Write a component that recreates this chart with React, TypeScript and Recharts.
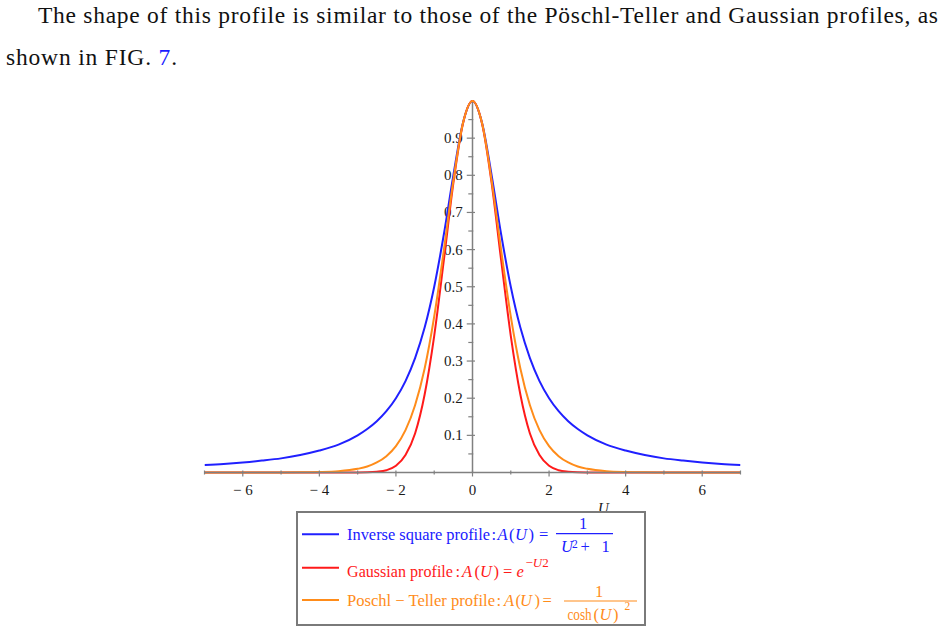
import React from 'react';
import { LineChart, Line, XAxis, YAxis, ReferenceLine, Legend } from 'recharts';

// ---------- data ----------
const U = [
  -7, -6.5, -6, -5.5, -5, -4.5, -4, -3.5, -3, -2.75, -2.5, -2.25, -2, -1.75, -1.5, -1.25, -1, -0.75, -0.5, -0.25,
  0, 0.25, 0.5, 0.75, 1, 1.25, 1.5, 1.75, 2, 2.25, 2.5, 2.75, 3, 3.5, 4, 4.5, 5, 5.5, 6, 6.5, 7,
];
const inverseSquare = [
  0.02, 0.023, 0.027, 0.032, 0.038, 0.047, 0.059, 0.075, 0.1, 0.117, 0.138, 0.165, 0.2, 0.246, 0.308, 0.39, 0.5, 0.64, 0.8, 0.941,
  1, 0.941, 0.8, 0.64, 0.5, 0.39, 0.308, 0.246, 0.2, 0.165, 0.138, 0.117, 0.1, 0.075, 0.059, 0.047, 0.038, 0.032, 0.027, 0.023, 0.02,
];
const gaussian = [
  0, 0, 0, 0, 0, 0, 0, 0, 0.0001, 0.0005, 0.002, 0.006, 0.018, 0.047, 0.105, 0.21, 0.368, 0.57, 0.779, 0.939,
  1, 0.939, 0.779, 0.57, 0.368, 0.21, 0.105, 0.047, 0.018, 0.006, 0.002, 0.0005, 0.0001, 0, 0, 0, 0, 0, 0, 0, 0,
];
const poschlTeller = [
  0, 0, 0, 0, 0.0002, 0.0005, 0.0013, 0.0036, 0.0099, 0.016, 0.027, 0.044, 0.071, 0.114, 0.181, 0.28, 0.42, 0.597, 0.786, 0.94,
  1, 0.94, 0.786, 0.597, 0.42, 0.28, 0.181, 0.114, 0.071, 0.044, 0.027, 0.016, 0.0099, 0.0036, 0.0013, 0.0005, 0.0002, 0, 0, 0, 0,
];

const seriesKeys = ['inv', 'gau', 'pt'];
const seriesNames = ['Inverse square profile', 'Gaussian profile', 'Poschl \u2212 Teller profile'];

const xMajorTicks = [-6, -4, -2, 0, 2, 4, 6];
const xTickLabels = ['\u2212 6', '\u2212 4', '\u2212 2', '0', '2', '4', '6'];
const xMinorTicks = [-7, -5, -3, -1, 1, 3, 5, 7];
const yMajorTicks = [0.1, 0.2, 0.3, 0.4, 0.5, 0.6, 0.7, 0.8, 0.9];
const yTickLabels = ['0.1', '0.2', '0.3', '0.4', '0.5', '0.6', '0.7', '0.8', '0.9'];
const yMinorTicks = [0.05, 0.15, 0.25, 0.35, 0.45, 0.55, 0.65, 0.75, 0.85, 0.95];

const data = U.map((u, i) => ({ u, inv: inverseSquare[i], gau: gaussian[i], pt: poschlTeller[i] }));
const xTicks = [...xMajorTicks, ...xMinorTicks].sort((a, b) => a - b);

// ---------- styles ----------
const SERIF = '"Liberation Serif", "Times New Roman", serif';
const AXIS = '#808080';
const BLUE = '#2020ff';
const RED = '#ff1a1a';
const ORANGE = '#ff8c1a';
const seriesColors = [BLUE, RED, ORANGE];
const TEXT = '#1a1a1a';
const LFS = 16.5;
const IT = { fontStyle: 'italic' as const };

const XTick = (props: any) => {
  const { x, y, payload } = props;
  const v = payload.value;
  const mi = xMajorTicks.indexOf(v);
  const major = mi >= 0;
  return (
    <g>
      <line x1={x} x2={x} y1={y - 2} y2={y + (major ? 4 : 2)} stroke={AXIS} strokeWidth={1.2} />
      {major && (
        <text x={x} y={y + 22.5} textAnchor="middle" fontFamily={SERIF} fontSize={15} fill={TEXT}>
          {xTickLabels[mi]}
        </text>
      )}
    </g>
  );
};

const yLabel = (text: string) => (props: any) => {
  const vb = props.viewBox || {};
  return (
    <text x={vb.x - 4} y={vb.y + 5} textAnchor="end" fontFamily={SERIF} fontSize={15} fill={TEXT}>
      {text}
    </text>
  );
};

const uLabel = (props: any) => {
  const vb = props.viewBox || {};
  return (
    <text x={vb.x + vb.width - 137} y={vb.y + 40} textAnchor="middle" fontFamily={SERIF} fontStyle="italic" fontSize={15} fill={TEXT}>
      U
    </text>
  );
};

const rowLineY = [23.3, 56.7, 89];

const Row1 = ({ c }: { c: string }) => (
  <g fill={c} fontFamily={SERIF} fontSize={LFS}>
    <text y={29}>
      <tspan x={51} textLength={143} lengthAdjust="spacingAndGlyphs">{seriesNames[0]}</tspan>
      <tspan x={195.5}>:</tspan>
      <tspan x={201.5} style={IT}>A</tspan>
      <tspan x={213}>(</tspan>
      <tspan x={219} style={IT}>U</tspan>
      <tspan x={232.5}>)</tspan>
      <tspan x={243}>=</tspan>
    </text>
    <text x={287} y={17.7} textAnchor="middle">1</text>
    <line x1={260} x2={317} y1={22.7} y2={22.7} stroke={c} strokeWidth={1.2} />
    <text y={41}>
      <tspan x={265} style={IT}>U</tspan>
      <tspan x={276} y={36.5} fontSize={11.5}>2</tspan>
      <tspan x={284.5} y={41}>+</tspan>
      <tspan x={305.5}>1</tspan>
    </text>
  </g>
);

const Row2 = ({ c }: { c: string }) => (
  <g fill={c} fontFamily={SERIF} fontSize={LFS}>
    <text y={66}>
      <tspan x={51} textLength={106} lengthAdjust="spacingAndGlyphs">{seriesNames[1]}</tspan>
      <tspan x={159.5}>:</tspan>
      <tspan x={166} style={IT}>A</tspan>
      <tspan x={178.5}>(</tspan>
      <tspan x={184} style={IT}>U</tspan>
      <tspan x={197.5}>)</tspan>
      <tspan x={207}>=</tspan>
      <tspan x={220.5} style={IT}>e</tspan>
      <tspan x={229.5} y={56} fontSize={13}>
        {'\u2212'}
        <tspan style={IT}>U</tspan>2
      </tspan>
    </text>
  </g>
);

const Row3 = ({ c }: { c: string }) => (
  <g fill={c} fontFamily={SERIF} fontSize={LFS}>
    <text y={95}>
      <tspan x={51} textLength={148} lengthAdjust="spacingAndGlyphs">{seriesNames[2]}</tspan>
      <tspan x={200.5}>:</tspan>
      <tspan x={208} style={IT}>A</tspan>
      <tspan x={219.5}>(</tspan>
      <tspan x={224} style={IT}>U</tspan>
      <tspan x={238.5}>)</tspan>
      <tspan x={246.5}>=</tspan>
    </text>
    <text x={303} y={86} textAnchor="middle">1</text>
    <line x1={268} x2={341} y1={90} y2={90} stroke={c} strokeWidth={1.2} />
    <text transform="translate(271.5,109) scale(0.8,1)">cosh</text>
    <text y={109}>
      <tspan x={297.5}>(</tspan>
      <tspan x={303.5} style={IT}>U</tspan>
      <tspan x={317}>)</tspan>
      <tspan x={328.5} y={99} fontSize={11.5}>2</tspan>
    </text>
  </g>
);

const rowComponents = [Row1, Row2, Row3];

const LegendBox = (props: any) => {
  const payload = props.payload || [];
  return (
    <svg width={350} height={115} style={{ display: 'block', overflow: 'visible' }}>
      <rect x={1} y={1} width={348} height={113} fill="none" stroke="#7a7a7a" strokeWidth={2} />
      {seriesKeys.map((k, i) => {
        const item = payload.find((p: any) => p.dataKey === k);
        const color = (item && item.color) || seriesColors[i];
        const R = rowComponents[i];
        return (
          <g key={k}>
            <line x1={6} x2={43} y1={rowLineY[i]} y2={rowLineY[i]} stroke={color} strokeWidth={2} />
            <R c={color} />
          </g>
        );
      })}
    </svg>
  );
};

export default function App() {
  return (
    <div style={{ position: 'absolute', left: 0, top: 0, width: 944, height: 632, background: '#fff' }}>
      <svg width={944} height={80} style={{ position: 'absolute', left: 0, top: 0 }}>
        <text x={38} y={23} fontFamily={SERIF} fontSize={23.5} fill="#111" textLength={900} lengthAdjust="spacing">
          The shape of this profile is similar to those of the Pöschl-Teller and Gaussian profiles, as
        </text>
        <text x={6} y={65} fontFamily={SERIF} fontSize={23.5} fill="#111" textLength={171} lengthAdjust="spacing">
          shown in FIG. <tspan fill="#1a1aff">7</tspan>.
        </text>
      </svg>
      <div style={{ position: 'absolute', left: 0, top: 0 }}>
        <LineChart width={944} height={632} data={data} margin={{ top: 101, right: 203.5, bottom: 119.5, left: 204.5 }}>
          <XAxis
            dataKey="u"
            type="number"
            domain={[-7, 7]}
            ticks={xTicks}
            interval={0}
            allowDataOverflow
            tick={(p: any) => <XTick {...p} />}
            tickLine={false}
            tickSize={0}
            tickMargin={0}
            height={40}
            axisLine={{ stroke: AXIS, strokeWidth: 1.5 }}
            label={uLabel}
          />
          <YAxis type="number" domain={[0, 1]} hide />
          <ReferenceLine x={0} stroke={AXIS} strokeWidth={1.5} />
          {yMajorTicks.map((v, i) => (
            <ReferenceLine
              key={'M' + v}
              segment={[{ x: -0.15, y: v }, { x: 0.065, y: v }]}
              stroke={AXIS}
              strokeWidth={1.2}
              label={yLabel(yTickLabels[i])}
            />
          ))}
          {yMinorTicks.map((v) => (
            <ReferenceLine key={'m' + v} segment={[{ x: -0.11, y: v }, { x: 0.02, y: v }]} stroke={AXIS} strokeWidth={1.2} />
          ))}
          <Line type="monotone" dataKey="inv" name={seriesNames[0]} stroke={BLUE} strokeWidth={2} dot={false} isAnimationActive={false} />
          <Line type="monotone" dataKey="gau" name={seriesNames[1]} stroke={RED} strokeWidth={2} dot={false} isAnimationActive={false} />
          <Line type="monotone" dataKey="pt" name={seriesNames[2]} stroke={ORANGE} strokeWidth={2} dot={false} isAnimationActive={false} />
          <Legend
            layout="horizontal"
            verticalAlign="middle"
            align="center"
            wrapperStyle={{ left: 296, top: 511, width: 350, height: 115 }}
            content={(p: any) => <LegendBox {...p} />}
          />
        </LineChart>
      </div>
    </div>
  );
}
